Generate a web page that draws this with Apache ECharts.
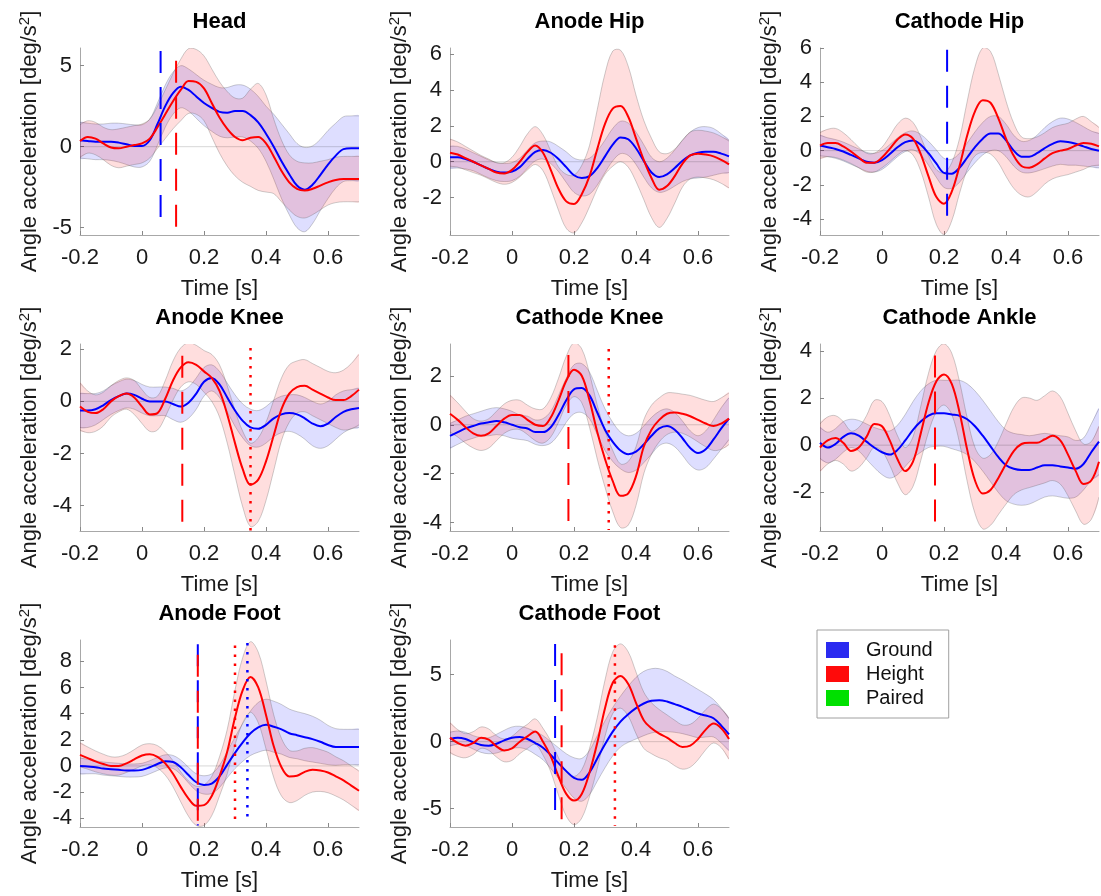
<!DOCTYPE html>
<html>
<head>
<meta charset="utf-8">
<script src="https://cdn.jsdelivr.net/npm/echarts@6/dist/echarts.min.js"></script>
<style>
  html, body { margin: 0; padding: 0; background: #fff; }
  #chart { width: 1101px; height: 896px; }
</style>
</head>
<body>
<div id="chart"></div>
<script>
// Time base shared by every panel (s)
const T = [-0.2,-0.175,-0.15,-0.125,-0.1,-0.075,-0.05,-0.025,0,0.025,0.05,0.075,0.1,0.125,0.15,0.175,0.2,0.225,0.25,0.275,0.3,0.325,0.35,0.375,0.4,0.425,0.45,0.475,0.5,0.525,0.55,0.575,0.6,0.625,0.65,0.675,0.7];

// Mean angle acceleration (deg/s^2) and half-width of the shaded band, per segment and condition
const headGroundMean  = [0.4,0.35,0.3,0.3,0.3,0.25,0.15,0.05,0.05,0.4,1.4,2.5,3.3,3.7,3.5,3.1,2.7,2.4,2.15,2.1,2.2,2.2,1.95,1.5,0.8,0.0,-0.9,-1.7,-2.4,-2.65,-2.35,-1.75,-1.1,-0.55,-0.15,-0.1,-0.1];
const headGroundBand  = [1.1,1.1,1.1,1.1,1.15,1.2,1.25,1.3,1.3,1.3,1.3,1.3,1.3,1.3,1.3,1.35,1.4,1.45,1.5,1.55,1.6,1.6,1.6,1.6,1.7,2.0,2.3,2.5,2.6,2.6,2.4,2.2,2.1,2.0,2.0,2.0,2.0];
const headHeightMean  = [0.35,0.6,0.5,0.2,-0.05,-0.1,0.0,0.1,0.2,0.5,1.2,2.0,2.8,3.5,4.05,4.0,3.6,2.7,1.8,1.1,0.6,0.4,0.55,0.6,0.2,-0.6,-1.5,-2.2,-2.6,-2.7,-2.6,-2.4,-2.2,-2.05,-2.0,-2.0,-2.0];
const headHeightBand  = [1.0,1.0,1.0,1.0,1.1,1.2,1.2,1.2,1.2,1.2,1.3,1.5,1.7,1.9,2.0,2.0,2.0,2.1,2.2,2.3,2.4,2.6,3.0,3.3,3.0,2.3,1.9,1.7,1.7,1.7,1.6,1.5,1.4,1.4,1.4,1.4,1.4];

const anodeHipGroundMean = [0.25,0.25,0.15,0.0,-0.2,-0.4,-0.55,-0.6,-0.55,-0.3,0.15,0.55,0.65,0.5,0.15,-0.3,-0.75,-0.9,-0.8,-0.35,0.3,0.95,1.35,1.25,0.75,0.05,-0.6,-0.85,-0.7,-0.35,0.05,0.35,0.5,0.55,0.55,0.45,0.3];
const anodeHipGroundBand = [0.6,0.6,0.55,0.5,0.5,0.5,0.5,0.5,0.5,0.5,0.5,0.5,0.5,0.6,0.7,0.85,0.95,1.0,1.0,0.95,0.9,0.9,0.9,0.9,0.9,0.9,0.85,0.85,0.9,1.0,1.15,1.3,1.4,1.4,1.3,1.1,0.9];
const anodeHipHeightMean = [0.5,0.4,0.2,0.0,-0.2,-0.4,-0.6,-0.65,-0.45,0.0,0.55,0.9,0.5,-0.45,-1.5,-2.2,-2.35,-1.8,-0.8,0.7,2.1,2.95,3.1,2.5,1.3,0.1,-0.9,-1.55,-1.35,-0.8,-0.1,0.35,0.45,0.4,0.3,0.1,-0.15];
const anodeHipHeightBand = [0.75,0.7,0.65,0.6,0.55,0.55,0.55,0.6,0.7,0.85,1.0,1.05,1.0,1.05,1.2,1.5,1.6,1.6,1.7,2.2,2.8,3.2,3.1,2.8,2.4,2.2,2.2,2.1,1.8,1.5,1.3,1.3,1.3,1.3,1.3,1.3,1.3];

const cathodeHipGroundMean = [0.3,0.2,0.1,-0.05,-0.25,-0.45,-0.65,-0.7,-0.55,-0.2,0.2,0.5,0.6,0.35,-0.15,-0.75,-1.3,-1.35,-1.0,-0.4,0.2,0.7,1.0,1.0,0.6,0.0,-0.35,-0.35,-0.15,0.15,0.4,0.55,0.5,0.4,0.25,0.1,0.0];
const cathodeHipGroundBand = [0.6,0.55,0.55,0.55,0.55,0.55,0.55,0.55,0.55,0.55,0.55,0.55,0.55,0.6,0.7,0.8,0.85,0.85,0.85,0.85,0.9,0.95,1.0,1.0,0.95,0.9,0.9,0.95,1.05,1.2,1.3,1.35,1.35,1.25,1.15,1.05,1.0];
const cathodeHipHeightMean = [0.3,0.45,0.45,0.25,-0.05,-0.4,-0.7,-0.7,-0.4,0.1,0.65,0.95,0.7,-0.2,-1.5,-2.7,-3.1,-2.4,-0.9,0.9,2.3,2.95,2.8,1.9,0.7,-0.3,-0.9,-1.0,-0.8,-0.45,-0.15,0.0,0.1,0.3,0.45,0.4,0.25];
const cathodeHipHeightBand = [0.75,0.8,0.85,0.8,0.7,0.6,0.55,0.55,0.6,0.75,0.9,0.95,0.95,1.0,1.2,1.6,1.8,1.7,1.6,2.0,2.6,3.05,3.0,2.6,2.2,1.9,1.7,1.7,1.6,1.5,1.5,1.5,1.5,1.55,1.55,1.3,1.1];

const anodeKneeGroundMean = [-0.35,-0.35,-0.3,-0.15,0.05,0.2,0.3,0.25,0.1,0.0,0.0,0.0,-0.1,-0.2,-0.05,0.3,0.75,0.9,0.65,0.15,-0.35,-0.75,-1.0,-1.05,-0.9,-0.65,-0.5,-0.45,-0.5,-0.65,-0.85,-0.95,-0.85,-0.6,-0.4,-0.3,-0.25];
const anodeKneeGroundBand = [0.65,0.65,0.6,0.55,0.55,0.55,0.55,0.55,0.55,0.55,0.55,0.55,0.6,0.6,0.6,0.6,0.55,0.5,0.5,0.55,0.6,0.65,0.7,0.7,0.7,0.7,0.7,0.7,0.75,0.8,0.85,0.85,0.85,0.85,0.8,0.75,0.75];
const anodeKneeHeightMean = [-0.2,-0.4,-0.45,-0.3,0.0,0.2,0.3,0.15,-0.2,-0.5,-0.45,0.1,0.8,1.3,1.5,1.4,1.15,0.9,0.4,-0.5,-1.6,-2.6,-3.2,-3.0,-2.3,-1.3,-0.3,0.3,0.55,0.6,0.45,0.3,0.15,0.05,0.05,0.2,0.45];
const anodeKneeHeightBand = [0.9,0.8,0.7,0.65,0.6,0.6,0.6,0.65,0.65,0.65,0.65,0.7,0.75,0.75,0.75,0.75,0.8,0.9,1.0,1.1,1.25,1.45,1.6,1.6,1.5,1.35,1.2,1.1,1.0,1.0,1.0,1.0,1.0,1.05,1.15,1.25,1.35];

const cathodeKneeGroundMean = [-0.45,-0.3,-0.15,-0.05,0.05,0.1,0.15,0.1,0.0,-0.1,-0.15,-0.3,-0.3,-0.1,0.4,1.0,1.45,1.5,1.2,0.5,-0.2,-0.7,-1.05,-1.2,-1.1,-0.8,-0.45,-0.15,-0.05,-0.2,-0.55,-0.95,-1.15,-1.0,-0.6,-0.15,0.25];
const cathodeKneeGroundBand = [0.5,0.5,0.5,0.5,0.5,0.55,0.55,0.55,0.55,0.5,0.5,0.5,0.55,0.65,0.8,0.9,1.0,1.0,0.95,0.9,0.85,0.8,0.75,0.75,0.75,0.75,0.75,0.7,0.7,0.7,0.7,0.7,0.7,0.75,0.8,0.85,0.85];
const cathodeKneeHeightMean = [0.45,0.2,-0.1,-0.35,-0.45,-0.35,-0.05,0.25,0.4,0.4,0.2,0.0,-0.05,0.3,1.0,1.8,2.25,2.0,1.0,-0.3,-1.4,-2.3,-2.9,-2.8,-2.1,-0.9,-0.2,0.2,0.45,0.5,0.45,0.35,0.2,0.05,-0.05,0.05,0.25];
const cathodeKneeHeightBand = [0.75,0.7,0.65,0.6,0.6,0.6,0.6,0.6,0.6,0.6,0.6,0.65,0.7,0.8,0.9,1.0,1.1,1.1,1.1,1.1,1.15,1.25,1.3,1.3,1.2,1.1,1.0,0.9,0.85,0.8,0.8,0.85,0.9,0.95,1.0,1.05,1.05];

const cathodeAnkleGroundMean = [0.1,-0.1,0.05,0.35,0.5,0.4,0.15,-0.1,-0.3,-0.4,-0.2,0.2,0.65,1.0,1.25,1.35,1.35,1.3,1.25,1.1,0.8,0.4,-0.05,-0.5,-0.85,-1.0,-1.05,-1.05,-0.95,-0.85,-0.85,-0.9,-0.95,-1.0,-0.8,-0.3,0.15];
const cathodeAnkleGroundBand = [0.65,0.65,0.65,0.65,0.6,0.65,0.75,0.85,0.95,1.0,1.05,1.1,1.2,1.3,1.35,1.4,1.4,1.45,1.5,1.5,1.5,1.5,1.5,1.5,1.5,1.5,1.5,1.45,1.4,1.35,1.3,1.3,1.3,1.2,1.1,1.2,1.4];
const cathodeAnkleHeightMean = [-0.1,0.2,0.3,0.1,-0.25,-0.1,0.35,0.9,0.8,0.2,-0.6,-1.1,-0.7,0.5,1.8,2.7,3.0,2.6,1.4,-0.2,-1.5,-2.05,-1.9,-1.4,-0.8,-0.25,0.05,0.1,0.1,0.25,0.4,0.2,-0.4,-1.1,-1.65,-1.5,-0.7];
const cathodeAnkleHeightBand = [1.0,1.0,0.95,0.9,0.85,0.85,0.9,1.0,1.05,1.05,1.0,1.0,1.05,1.15,1.25,1.3,1.3,1.3,1.3,1.35,1.4,1.5,1.5,1.55,1.7,1.85,1.95,1.9,1.8,1.85,1.9,1.85,1.75,1.7,1.7,1.65,1.5];

const anodeFootGroundMean = [0.0,-0.05,-0.1,-0.2,-0.25,-0.3,-0.35,-0.35,-0.3,-0.1,0.15,0.35,0.3,-0.1,-0.7,-1.25,-1.45,-1.35,-0.8,0.1,1.0,1.8,2.5,2.95,3.15,3.0,2.8,2.5,2.35,2.2,2.05,1.85,1.6,1.45,1.45,1.45,1.45];
const anodeFootGroundBand = [0.6,0.55,0.5,0.5,0.5,0.5,0.5,0.5,0.5,0.5,0.5,0.5,0.5,0.55,0.6,0.65,0.7,0.75,0.85,1.0,1.2,1.45,1.7,1.9,1.95,1.95,1.9,1.85,1.8,1.8,1.75,1.65,1.5,1.4,1.35,1.35,1.35];
const anodeFootHeightMean = [0.85,0.6,0.35,0.15,0.0,0.0,0.2,0.5,0.8,0.9,0.7,0.2,-0.6,-1.6,-2.5,-3.05,-3.0,-2.3,-0.8,1.1,3.7,5.8,6.8,6.0,3.9,1.5,-0.1,-0.8,-0.75,-0.45,-0.3,-0.35,-0.5,-0.8,-1.1,-1.5,-1.9];
const anodeFootHeightBand = [0.9,0.85,0.8,0.75,0.7,0.7,0.7,0.75,0.8,0.8,0.85,0.9,1.0,1.15,1.35,1.5,1.55,1.5,1.5,1.7,2.1,2.5,2.7,2.7,2.6,2.4,2.2,2.0,1.9,1.8,1.7,1.6,1.55,1.5,1.5,1.5,1.5];

const cathodeFootGroundMean = [0.2,0.3,0.2,-0.05,-0.25,-0.3,-0.15,0.1,0.3,0.35,0.2,-0.1,-0.45,-1.0,-1.6,-2.2,-2.7,-2.85,-2.3,-1.25,-0.2,0.75,1.5,2.05,2.5,2.85,3.05,3.1,3.0,2.8,2.6,2.35,2.1,1.95,1.75,1.2,0.55];
const cathodeFootGroundBand = [0.5,0.5,0.5,0.5,0.55,0.6,0.7,0.75,0.8,0.8,0.8,0.85,0.9,1.0,1.15,1.3,1.5,1.6,1.65,1.7,1.75,1.8,1.9,2.1,2.3,2.4,2.4,2.35,2.25,2.1,2.0,1.9,1.8,1.6,1.4,1.3,1.2];
const cathodeFootHeightMean = [0.3,-0.1,-0.3,-0.1,0.3,0.15,-0.35,-0.65,-0.5,0.0,0.4,0.75,0.0,-1.1,-2.6,-3.9,-4.4,-3.9,-2.3,-0.1,2.5,4.4,4.9,4.3,2.9,1.6,1.0,0.6,0.3,-0.1,-0.4,-0.3,0.2,0.9,1.35,1.0,0.2];
const cathodeFootHeightBand = [1.1,1.0,0.9,0.85,0.8,0.8,0.8,0.85,0.9,0.9,0.9,0.95,1.0,1.15,1.4,1.65,1.8,1.8,1.8,1.9,2.1,2.3,2.4,2.4,2.3,2.1,1.9,1.8,1.7,1.7,1.65,1.6,1.55,1.5,1.45,1.45,1.5];

// Event markers: onset (dashed) and peak (dotted), time and vertical extent
const headEvents = [
  { group: 'Ground', kind: 'onset', t: 0.06, from: 5.9, to: -4.4 },
  { group: 'Height', kind: 'onset', t: 0.11, from: 5.3, to: -5.2 }
];
const anodeHipEvents = [];
const cathodeHipEvents = [
  { group: 'Ground', kind: 'onset', t: 0.21, from: 5.9, to: -4.1 }
];
const anodeKneeEvents = [
  { group: 'Height', kind: 'onset', t: 0.13, from: 1.75, to: -4.85 },
  { group: 'Height', kind: 'peak',  t: 0.35, from: 2.05, to: -4.97 }
];
const cathodeKneeEvents = [
  { group: 'Height', kind: 'onset', t: 0.182, from: 2.85, to: -4.25 },
  { group: 'Height', kind: 'peak',  t: 0.312, from: 3.1, to: -4.3 }
];
const cathodeAnkleEvents = [
  { group: 'Height', kind: 'onset', t: 0.171, from: 3.8, to: -3.5 }
];
const anodeFootEvents = [
  { group: 'Ground', kind: 'onset', t: 0.18, from: 9.3, to: -4.55 },
  { group: 'Height', kind: 'onset', t: 0.18, from: 8.5, to: -4.6 },
  { group: 'Height', kind: 'peak',  t: 0.30, from: 9.2, to: -4.4 },
  { group: 'Ground', kind: 'peak',  t: 0.34, from: 9.4, to: -4.2 }
];
const cathodeFootEvents = [
  { group: 'Ground', kind: 'onset', t: 0.139, from: 7.3, to: -5.35 },
  { group: 'Height', kind: 'onset', t: 0.16, from: 6.6, to: -6.2 },
  { group: 'Height', kind: 'peak',  t: 0.332, from: 7.2, to: -6.3 }
];

// Panel titles, axis ranges and tick labels
const titles = ['Head', 'Anode Hip', 'Cathode Hip', 'Anode Knee', 'Cathode Knee', 'Cathode Ankle', 'Anode Foot', 'Cathode Foot'];
const xRange = [-0.2, 0.7];
const xTicks = [-0.2, 0, 0.2, 0.4, 0.6];
const yRanges = [[-5.45, 6.09], [-4.07, 6.32], [-4.93, 6.0], [-4.97, 2.2], [-4.34, 3.3], [-3.64, 4.29], [-4.67, 9.63], [-6.37, 7.59]];
const yTicks = [[-5, 0, 5], [-2, 0, 2, 4, 6], [-4, -2, 0, 2, 4, 6], [-4, -2, 0, 2], [-4, -2, 0, 2], [-2, 0, 2, 4], [-4, -2, 0, 2, 4, 6, 8], [-5, 0, 5]];
const legendNames = ['Ground', 'Height', 'Paired'];

const panels = [
  { g: headGroundMean, gb: headGroundBand, h: headHeightMean, hb: headHeightBand, ev: headEvents },
  { g: anodeHipGroundMean, gb: anodeHipGroundBand, h: anodeHipHeightMean, hb: anodeHipHeightBand, ev: anodeHipEvents },
  { g: cathodeHipGroundMean, gb: cathodeHipGroundBand, h: cathodeHipHeightMean, hb: cathodeHipHeightBand, ev: cathodeHipEvents },
  { g: anodeKneeGroundMean, gb: anodeKneeGroundBand, h: anodeKneeHeightMean, hb: anodeKneeHeightBand, ev: anodeKneeEvents },
  { g: cathodeKneeGroundMean, gb: cathodeKneeGroundBand, h: cathodeKneeHeightMean, hb: cathodeKneeHeightBand, ev: cathodeKneeEvents },
  { g: cathodeAnkleGroundMean, gb: cathodeAnkleGroundBand, h: cathodeAnkleHeightMean, hb: cathodeAnkleHeightBand, ev: cathodeAnkleEvents },
  { g: anodeFootGroundMean, gb: anodeFootGroundBand, h: anodeFootHeightMean, hb: anodeFootHeightBand, ev: anodeFootEvents },
  { g: cathodeFootGroundMean, gb: cathodeFootGroundBand, h: cathodeFootHeightMean, hb: cathodeFootHeightBand, ev: cathodeFootEvents }
];

// ---- styling ----
const FONT = "'Liberation Sans', Arial, Helvetica, sans-serif";
const TEXT = '#1a1a1a';
const COLORS = { Ground: '#0000ff', Height: '#ff0000', Paired: '#00dd00' };
const FILLS = { Ground: 'rgba(0,0,255,0.13)', Height: 'rgba(255,0,0,0.13)' };
const EDGE = 'rgba(80,80,80,0.28)';
const LEGEND_SWATCH = { Ground: '#2a2af0', Height: '#ff0a0a', Paired: '#00e000' };
const DASH = { onset: [22, 14], peak: [2.5, 6.5] };
const SMOOTH = 0.35;

const colLeft = [80, 450, 820];
const rowTop = [48, 344, 640];
const plotW = 279, plotH = 187;

const grids = [], xAxes = [], yAxes = [], titleList = [], series = [];

// shaded band: polygon between mean-half and mean+half, mapped through the panel's axes
function bandSeries(i, mean, half, group) {
  return {
    type: 'custom', xAxisIndex: i, yAxisIndex: i, silent: true, z: 1, clip: true,
    data: [[T[0], mean[0]]],
    renderItem: function (params, api) {
      const upper = T.map((t, k) => api.coord([t, mean[k] + half[k]]));
      const lower = T.map((t, k) => api.coord([t, mean[k] - half[k]]));
      const outline = upper.concat(lower.slice().reverse());
      return {
        type: 'group',
        children: [
          { type: 'polygon', shape: { points: outline, smooth: SMOOTH }, style: { fill: FILLS[group], stroke: null } },
          { type: 'polyline', shape: { points: upper, smooth: SMOOTH }, style: { fill: null, stroke: EDGE, lineWidth: 1 } },
          { type: 'polyline', shape: { points: lower, smooth: SMOOTH }, style: { fill: null, stroke: EDGE, lineWidth: 1 } }
        ]
      };
    }
  };
}

panels.forEach((p, i) => {
  const col = i % 3, row = Math.floor(i / 3);
  const left = colLeft[col], top = rowTop[row];
  grids.push({ left: left, top: top, width: plotW, height: plotH });

  titleList.push({
    text: titles[i], left: left + plotW / 2, top: top - 37, textAlign: 'center', padding: 0,
    textStyle: { fontFamily: FONT, fontSize: 22, fontWeight: 'bold', color: '#000' }
  });

  xAxes.push({
    type: 'value', gridIndex: i, min: xRange[0], max: xRange[1],
    name: 'Time [s]', nameLocation: 'middle', nameGap: 43,
    nameTextStyle: { fontFamily: FONT, fontSize: 22, color: TEXT },
    axisLine: { show: true, onZero: false, lineStyle: { color: '#a8a8a8', width: 1 } },
    axisTick: { show: true, inside: true, length: 4, customValues: xTicks, lineStyle: { color: '#888' } },
    axisLabel: { customValues: xTicks, fontFamily: FONT, fontSize: 22, color: TEXT, margin: 12 },
    splitLine: { show: false }
  });

  yAxes.push({
    type: 'value', gridIndex: i, min: yRanges[i][0], max: yRanges[i][1],
    name: 'Angle acceleration [deg/s{sup|2}]', nameLocation: 'middle', nameGap: 37, nameRotate: 90,
    nameTextStyle: {
      fontFamily: FONT, fontSize: 22, color: TEXT,
      rich: { sup: { fontFamily: FONT, fontSize: 15, color: TEXT, verticalAlign: 'top', lineHeight: 26 } }
    },
    axisLine: { show: true, onZero: false, lineStyle: { color: '#a8a8a8', width: 1 } },
    axisTick: { show: true, inside: true, length: 4, customValues: yTicks[i], lineStyle: { color: '#888' } },
    axisLabel: { customValues: yTicks[i], fontFamily: FONT, fontSize: 22, color: TEXT, margin: 8 },
    splitLine: { show: false }
  });

  // shaded bands
  series.push(bandSeries(i, p.g, p.gb, 'Ground'));
  series.push(bandSeries(i, p.h, p.hb, 'Height'));

  // zero reference line
  series.push({
    type: 'line', xAxisIndex: i, yAxisIndex: i, silent: true, symbol: 'none', z: 2,
    data: [[xRange[0], 0], [xRange[1], 0]],
    lineStyle: { color: 'rgba(0,0,0,0.16)', width: 1 }
  });

  // mean curves
  [['Ground', p.g], ['Height', p.h]].forEach(([group, mean]) => {
    series.push({
      type: 'line', xAxisIndex: i, yAxisIndex: i, silent: true, symbol: 'none', z: 3,
      smooth: SMOOTH, data: T.map((t, k) => [t, mean[k]]),
      lineStyle: { color: COLORS[group], width: 2 }
    });
  });

  // onset / peak markers
  p.ev.forEach(e => {
    series.push({
      type: 'line', xAxisIndex: i, yAxisIndex: i, silent: true, symbol: 'none', z: 4,
      data: [[e.t, e.from], [e.t, e.to]],
      lineStyle: { color: COLORS[e.group], width: e.kind === 'peak' ? 2.5 : 2, type: DASH[e.kind], cap: 'butt' }
    });
  });
});

// empty series that carry the legend entries
legendNames.forEach(name => {
  series.push({
    name: name, type: 'line', xAxisIndex: 0, yAxisIndex: 0, data: [],
    itemStyle: { color: LEGEND_SWATCH[name] }, lineStyle: { color: LEGEND_SWATCH[name] }
  });
});

const chart = echarts.init(document.getElementById('chart'), null, { renderer: 'canvas' });
chart.setOption({
  backgroundColor: '#ffffff',
  animation: false,
  title: titleList,
  grid: grids,
  xAxis: xAxes,
  yAxis: yAxes,
  legend: {
    data: legendNames.map(n => ({ name: n, icon: 'rect', itemStyle: { color: LEGEND_SWATCH[n] } })),
    orient: 'vertical', left: 817, top: 630,
    itemWidth: 23, itemHeight: 16, itemGap: 4,
    padding: [10, 16, 10, 9],
    borderColor: '#a0a0a0', borderWidth: 1, backgroundColor: '#fff',
    selectedMode: false,
    textStyle: { fontFamily: FONT, fontSize: 20, color: '#111', padding: [0, 0, 0, 12] }
  },
  series: series
});
</script>
</body>
</html>
